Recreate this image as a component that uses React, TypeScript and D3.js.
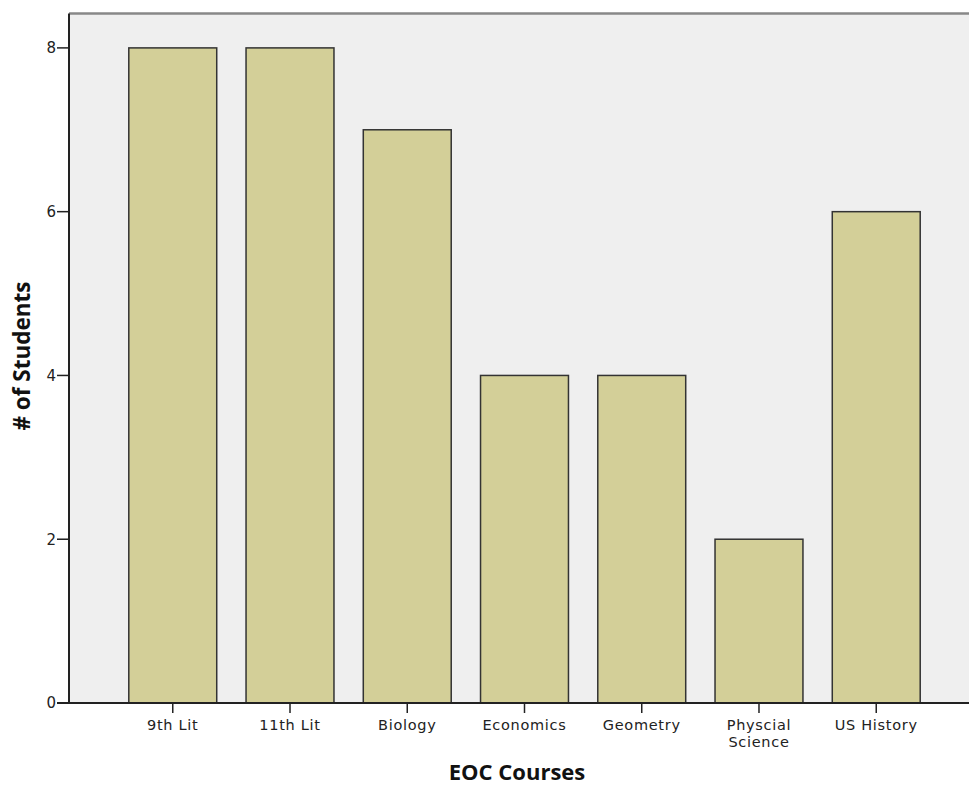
import React from "react";
import * as d3 from "d3";

const categories = ["9th Lit", "11th Lit", "Biology", "Economics", "Geometry", "Physcial Science", "US History"];
const values = [8, 8, 7, 4, 4, 2, 6];
const yTicks = [0, 2, 4, 6, 8];

const W = 969, H = 788;
const left = 69, right = 980, top = 13.5, bottom = 703;

export default function App() {
  const x = d3.scaleBand<string>().domain(categories).range([left, right]).paddingInner(0.25).paddingOuter(0.51);
  const y = d3.scaleLinear().domain([0, 8.42]).range([bottom, top]);
  const font = "'DejaVu Sans', sans-serif";
  return (
    <svg width={W} height={H} style={{ position: "absolute", left: 0, top: 0 }}>
      <rect x={left} y={top} width={right - left} height={bottom - top} fill="#efefef" />
      <line x1={left} x2={right} y1={top} y2={top} stroke="#888" strokeWidth={2.5} />
      {categories.map((c, i) => (
        <rect key={c} x={x(c)} y={y(values[i])} width={x.bandwidth()} height={bottom - y(values[i])}
          fill="#d3cf98" stroke="#333" strokeWidth={1.5} />
      ))}
      <line x1={left} x2={left} y1={top} y2={bottom} stroke="#222" strokeWidth={2} />
      <line x1={left - 12} x2={right} y1={bottom} y2={bottom} stroke="#222" strokeWidth={2} />
      {yTicks.map(t => (
        <g key={t}>
          <line x1={left - 12} x2={left} y1={y(t)} y2={y(t)} stroke="#222" strokeWidth={1.5} />
          <text x={left - 13} y={y(t)} dy="0.36em" textAnchor="end" fontFamily={font} fontSize={15} fill="#222">{t}</text>
        </g>
      ))}
      {categories.map(c => {
        const cx = (x(c) as number) + x.bandwidth() / 2;
        const words = c === "Physcial Science" ? ["Physcial", "Science"] : [c];
        return (
          <g key={c}>
            <line x1={cx} x2={cx} y1={bottom} y2={bottom + 10} stroke="#222" strokeWidth={1.5} />
            {words.map((w, j) => (
              <text key={w} x={cx} y={729.5 + j * 17} textAnchor="middle" fontFamily={font} fontSize={14.5} letterSpacing={0.7} fill="#222">{w}</text>
            ))}
          </g>
        );
      })}
      <text x={517} y={780} textAnchor="middle" fontFamily="'Open Sans', sans-serif" fontWeight="bold" fontSize={22} fill="#111">EOC Courses</text>
      <text transform="translate(30,356) rotate(-90)" textAnchor="middle" fontFamily="'Open Sans', sans-serif" fontWeight="bold" fontSize={22.5} fill="#111"># of Students</text>
    </svg>
  );
}
